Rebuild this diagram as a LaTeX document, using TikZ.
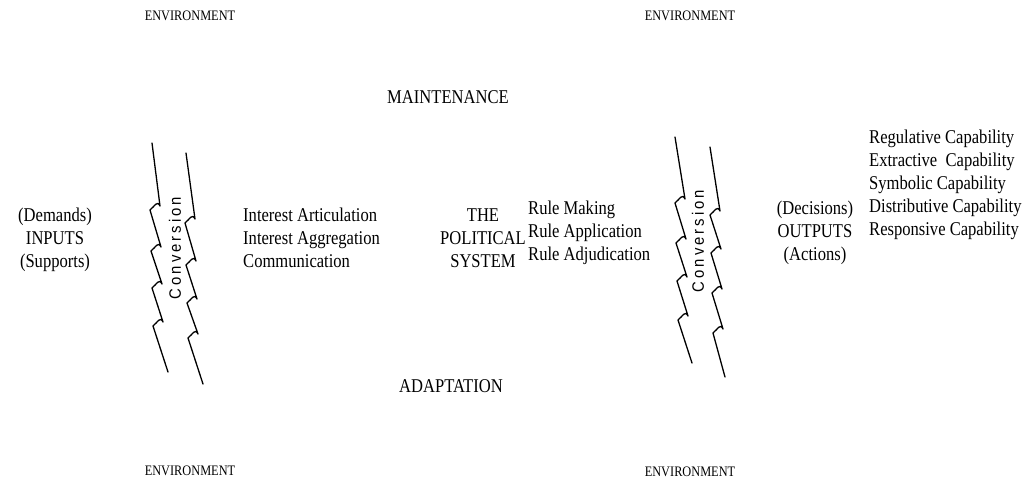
\documentclass[tikz,border=0pt]{standalone}
\usepackage{fontspec}
\setmainfont[FakeStretch=0.85]{Liberation Serif}
\newfontfamily\convfont[FakeStretch=0.9]{Liberation Sans}
\begin{document}
\begin{tikzpicture}[x=1pt,y=-1pt,
  txt/.style={font=\fontsize{19.5}{23}\selectfont, inner sep=0pt, anchor=base},
  lft/.style={txt, anchor=base west},
  env/.style={font=\fontsize{14.5}{17}\selectfont, inner sep=0pt, anchor=base},
  conv/.style={font=\convfont\fontsize{16.5}{18}\selectfont, inner sep=0pt, rotate=90},
  bolt/.style={line width=1.3pt, line join=round, line cap=round}]
\useasboundingbox (0,0) rectangle (1026,497);
% environment labels
\node[env] (envTL) at (190,21) {ENVIRONMENT};
\node[env] (envTR) at (690,21) {ENVIRONMENT};
\node[env] (envBL) at (190,475) {ENVIRONMENT};
\node[env] (envBR) at (690,476) {ENVIRONMENT};
\node[txt] (maint) at (448,104) {MAINTENANCE};
\node[txt] (adapt) at (451,392) {ADAPTATION};
% inputs
\node[txt] (dem) at (55,222) {(Demands)};
\node[txt] (inp) at (55,245) {INPUTS};
\node[txt] (sup) at (55,268) {(Supports)};
% interest
\node[lft] (ia1) at (243,222) {Interest Articulation};
\node[lft] (ia2) at (243,245) {Interest Aggregation};
\node[lft] (ia3) at (243,268) {Communication};
% political system
\node[txt] (ps1) at (483,222) {THE};
\node[txt] (ps2) at (483,245) {POLITICAL};
\node[txt] (ps3) at (483,268) {SYSTEM};
% rules
\node[lft] (r1) at (528,215) {Rule Making};
\node[lft] (r2) at (528,238) {Rule Application};
\node[lft] (r3) at (528,261) {Rule Adjudication};
% outputs
\node[txt] (dec) at (815,215) {(Decisions)};
\node[txt] (out) at (815,238) {OUTPUTS};
\node[txt] (act) at (815,261) {(Actions)};
% capabilities
\node[lft] (c1) at (869,144) {Regulative Capability};
\node[lft] (c2) at (869,167) {Extractive\ \ Capability};
\node[lft] (c3) at (869,190) {Symbolic Capability};
\node[lft] (c4) at (869,213) {Distributive Capability};
\node[lft] (c5) at (869,236) {Responsive Capability};
% conversion text
\node[conv] (convL) at (175,248) {C\kern3pt o\kern3pt n\kern3pt v\kern3pt e\kern3pt r\kern3pt s\kern3pt i\kern3pt o\kern3pt n};
\node[conv] (convR) at (698,241) {C\kern3pt o\kern3pt n\kern3pt v\kern3pt e\kern3pt r\kern3pt s\kern3pt i\kern3pt o\kern3pt n};
% zigzag lines
\def\hook(#1,#2)(#3,#4){-- (#1,#2) .. controls +(-3,-6) and +(5,-4) .. (#3,#4)}
\draw[bolt] (152,143) \hook(160,206)(150,210) \hook(161,247)(151,251) \hook(162,284)(152,288) \hook(163,322)(153,326) -- (168,372);
\draw[bolt] (186,153) \hook(195,219)(185,223) \hook(196,261)(186,265) \hook(197,299)(187,303) \hook(198,334)(188,338) -- (203,384);
\draw[bolt] (675,137) \hook(685,199)(675,203) \hook(686,239)(676,243) \hook(687,277)(677,281) \hook(688,316)(678,320) -- (692,363);
\draw[bolt] (710,147) \hook(720,211)(710,215) \hook(721,249)(711,253) \hook(722,289)(712,293) \hook(723,329)(713,333) -- (725,377);
\end{tikzpicture}
\end{document}
